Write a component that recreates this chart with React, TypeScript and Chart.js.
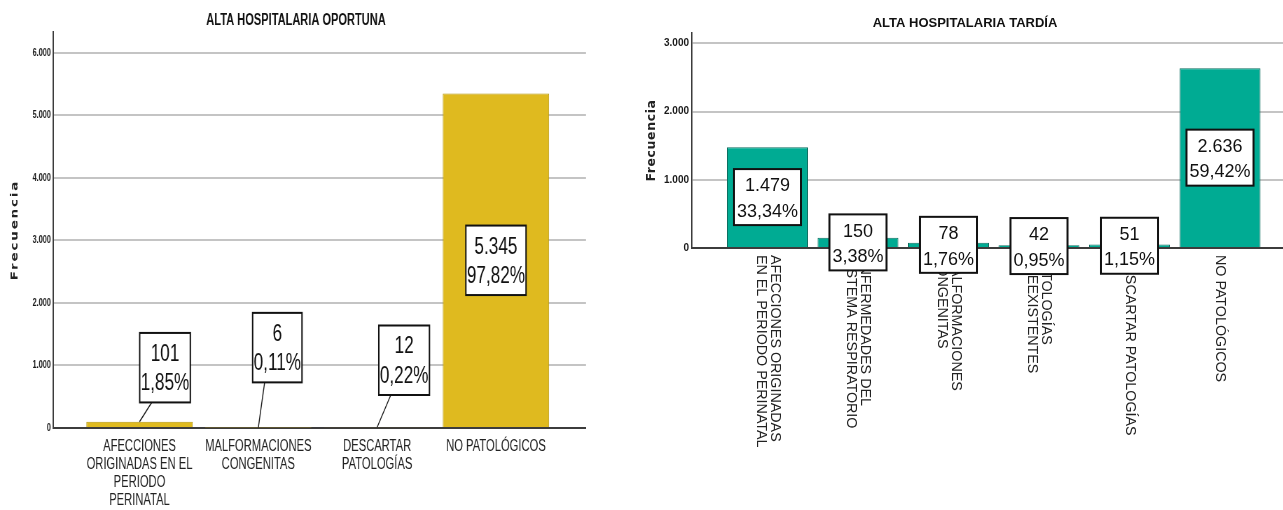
import React, { useEffect, useRef } from 'react';
import { Chart, registerables } from 'chart.js';

Chart.register(...registerables);

// ---------- data ----------
const OPORTUNA_CATEGORIES: string[][] = [
  ['AFECCIONES', 'ORIGINADAS EN EL', 'PERIODO', 'PERINATAL'],
  ['MALFORMACIONES', 'CONGENITAS'],
  ['DESCARTAR', 'PATOLOGÍAS'],
  ['NO PATOLÓGICOS'],
];
const OPORTUNA_COUNTS = [101, 6, 12, 5345];
const OPORTUNA_PCTS = [1.85, 0.11, 0.22, 97.82];
const OPORTUNA_Y_TICKS = [0, 1000, 2000, 3000, 4000, 5000, 6000];

const TARDIA_CATEGORIES: string[][] = [
  ['AFECCIONES ORIGINADAS', 'EN EL PERIODO PERINATAL'],
  ['ENFERMEDADES DEL', 'SISTEMA RESPIRATORIO'],
  ['MALFORMACIONES', 'CONGENITAS'],
  ['PATOLOGÍAS', 'PREEXISTENTES'],
  ['DESCARTAR PATOLOGÍAS'],
  ['NO PATOLÓGICOS'],
];
const TARDIA_COUNTS = [1479, 150, 78, 42, 51, 2636];
const TARDIA_PCTS = [33.34, 3.38, 1.76, 0.95, 1.15, 59.42];
const TARDIA_Y_TICKS = [0, 1000, 2000, 3000];

const Y_TITLE = 'Frecuencia';

// ---------- helpers ----------
const SANS = '"Liberation Sans", Arial, sans-serif';

function fmtInt(v: number): string {
  return String(v).replace(/\B(?=(\d{3})+(?!\d))/g, '.');
}
function fmtPct(v: number): string {
  return v.toFixed(2).replace('.', ',') + '%';
}

type LabelOffset = { dx: number; dy: number } | null;

interface PanelSpec {
  title: string;
  categories: string[][];
  counts: number[];
  pcts: number[];
  yTicks: number[];
  yMax: number;
  xMin: number;
  xMax: number;
  left: number;
  displayWidth: number;
  internalWidth: number;
  height: number;
  area: { left: number; right: number; top: number; bottom: number };
  fill: string;
  stroke: string;
  axisWidth: number;
  titleX: number;
  titleY: number;
  titleSize: number;
  yTitleX: number;
  yTitleSize: number;
  yTitleSpacing: number;
  tickSize: number;
  rotatedCats: boolean;
  catSize: number;
  catLineHeight: number;
  catPadding: number;
  boxFont: number;
  boxPitch: number;
  boxPadX: number;
  boxPadTop: number;
  boxPadBottom: number;
  labelOffsets: LabelOffset[];
}

const OPORTUNA_SPEC: PanelSpec = {
  title: 'ALTA HOSPITALARIA OPORTUNA',
  categories: OPORTUNA_CATEGORIES,
  counts: OPORTUNA_COUNTS,
  pcts: OPORTUNA_PCTS,
  yTicks: OPORTUNA_Y_TICKS,
  yMax: 6330,
  xMin: -0.728,
  xMax: 3.758,
  left: 0,
  displayWidth: 640,
  internalWidth: 914,
  height: 510,
  area: { left: 53, right: 586, top: 32, bottom: 428 },
  fill: '#dfba1f',
  stroke: '#b59608',
  axisWidth: 2,
  titleX: 296,
  titleY: 21,
  titleSize: 15.8,
  yTitleX: 15,
  yTitleSize: 13.5,
  yTitleSpacing: 1.8,
  tickSize: 10.5,
  rotatedCats: false,
  catSize: 16,
  catLineHeight: 18.3,
  catPadding: 9,
  boxFont: 24.5,
  boxPitch: 29.5,
  boxPadX: 1,
  boxPadTop: 6.5,
  boxPadBottom: 4,
  labelOffsets: [{ dx: 25.5, dy: -54 }, { dx: 19, dy: -80 }, { dx: 27, dy: -67 }, null],
};

const TARDIA_SPEC: PanelSpec = {
  title: 'ALTA HOSPITALARIA TARDÍA',
  categories: TARDIA_CATEGORIES,
  counts: TARDIA_COUNTS,
  pcts: TARDIA_PCTS,
  yTicks: TARDIA_Y_TICKS,
  yMax: 3154,
  xMin: -0.834,
  xMax: 5.696,
  left: 640,
  displayWidth: 643,
  internalWidth: 643,
  height: 510,
  area: { left: 52, right: 643, top: 33, bottom: 248 },
  fill: '#00ab93',
  stroke: '#0c6f60',
  axisWidth: 1.5,
  titleX: 325,
  titleY: 23,
  titleSize: 13,
  yTitleX: 12,
  yTitleSize: 12.5,
  yTitleSpacing: 0.6,
  tickSize: 10,
  rotatedCats: true,
  catSize: 14.3,
  catLineHeight: 14,
  catPadding: 7,
  boxFont: 18,
  boxPitch: 25.5,
  boxPadX: 3,
  boxPadTop: 4.5,
  boxPadBottom: 0.5,
  labelOffsets: [null, null, null, null, null, null],
};

function BarPanel({ spec }: { spec: PanelSpec }) {
  const ref = useRef<HTMLCanvasElement>(null);

  useEffect(() => {
    const canvas = ref.current;
    if (!canvas) return;
    const kx = spec.internalWidth / spec.displayWidth;
    const areaLeft = spec.area.left * kx;
    const areaRight = spec.area.right * kx;

    const overlay = {
      id: 'panelOverlay',
      afterDraw(chart: any) {
        const ctx: CanvasRenderingContext2D = chart.ctx;
        const xs = chart.scales.x;
        const ys = chart.scales.y;
        const ca = chart.chartArea;
        ctx.save();

        // title
        ctx.fillStyle = '#111';
        ctx.textAlign = 'center';
        ctx.textBaseline = 'middle';
        ctx.font = `bold ${spec.titleSize}px ${SANS}`;
        ctx.fillText(spec.title, spec.titleX * kx, spec.titleY);

        // value axis title
        ctx.save();
        ctx.translate(spec.yTitleX * kx, (ca.top + ca.bottom) / 2);
        ctx.rotate(-Math.PI / 2);
        ctx.font = `bold ${spec.yTitleSize}px "DejaVu Sans", sans-serif`;
        (ctx as any).letterSpacing = `${spec.yTitleSpacing}px`;
        ctx.fillStyle = '#222';
        ctx.fillText(Y_TITLE, 0, 0);
        ctx.restore();

        const zeroY = ys.getPixelForValue(0);

        // vertical category labels, reading top to bottom
        if (spec.rotatedCats) {
          ctx.font = `${spec.catSize}px ${SANS}`;
          ctx.fillStyle = '#222';
          ctx.textAlign = 'left';
          ctx.textBaseline = 'middle';
          spec.categories.forEach((lines, i) => {
            const x = xs.getPixelForValue(i);
            ctx.save();
            ctx.translate(x, zeroY + spec.catPadding);
            ctx.rotate(Math.PI / 2);
            const n = lines.length;
            lines.forEach((line, j) => {
              const ly = -((n - 1) / 2 - j) * spec.catLineHeight;
              ctx.fillText(line, 0, ly);
            });
            ctx.restore();
          });
        }

        // value / percentage boxes
        const bars = chart.getDatasetMeta(0).data;
        ctx.font = `${spec.boxFont}px ${SANS}`;
        spec.counts.forEach((count, i) => {
          const bar: any = bars[i];
          if (!bar) return;
          const lines = [fmtInt(count), fmtPct(spec.pcts[i])];
          const tw = Math.max(...lines.map((l) => ctx.measureText(l).width));
          const bw = tw + 2 * spec.boxPadX * kx;
          const bh = lines.length * spec.boxPitch + spec.boxPadTop + spec.boxPadBottom;
          const off = spec.labelOffsets[i];
          const cx = bar.x + (off ? off.dx * kx : 0);
          const cy = off ? bar.y + off.dy : (bar.y + bar.base) / 2;
          const bx = cx - bw / 2;
          const by = cy - bh / 2;

          if (off) {
            ctx.beginPath();
            ctx.strokeStyle = '#1a1a1a';
            ctx.lineWidth = 1.4;
            ctx.moveTo(bx + 12 * kx, by + bh);
            ctx.lineTo(bar.x, bar.y);
            ctx.stroke();
          }

          ctx.fillStyle = '#ffffff';
          ctx.fillRect(bx, by, bw, bh);
          ctx.strokeStyle = '#111';
          ctx.lineWidth = 2;
          ctx.strokeRect(bx, by, bw, bh);

          ctx.fillStyle = '#111';
          ctx.textAlign = 'center';
          ctx.textBaseline = 'middle';
          lines.forEach((l, j) => {
            ctx.fillText(l, cx, by + spec.boxPadTop + spec.boxPitch * (j + 0.5));
          });
        });

        ctx.restore();
      },
    };

    const chart = new Chart(canvas, {
      type: 'bar',
      data: {
        datasets: [
          {
            data: spec.counts.map((v, i) => ({ x: i, y: v })),
            backgroundColor: spec.fill,
            borderColor: spec.stroke,
            borderWidth: 1,
            barPercentage: 0.895,
            categoryPercentage: 1,
          } as any,
        ],
      },
      options: {
        animation: false,
        responsive: false,
        devicePixelRatio: 1,
        layout: {
          padding: { left: 0, right: spec.internalWidth - areaRight, top: spec.area.top, bottom: 0 },
        },
        plugins: {
          legend: { display: false },
          tooltip: { enabled: false },
          title: { display: false },
        },
        scales: {
          x: {
            type: 'linear',
            min: spec.xMin,
            max: spec.xMax,
            offset: false,
            afterBuildTicks: (s: any) => {
              s.ticks = spec.categories.map((_, i) => ({ value: i }));
            },
            afterFit: (s: any) => {
              s.height = spec.height - spec.area.bottom;
            },
            grid: { display: false, drawTicks: false },
            border: { display: true, color: '#3c3c3c', width: 2 },
            ticks: {
              display: !spec.rotatedCats,
              autoSkip: false,
              maxRotation: 0,
              minRotation: 0,
              padding: spec.catPadding,
              color: '#222',
              font: { family: SANS, size: spec.catSize, lineHeight: spec.catLineHeight / spec.catSize },
              callback: (v: any) => spec.categories[Math.round(Number(v))] ?? '',
            },
          },
          y: {
            min: 0,
            max: spec.yMax,
            afterBuildTicks: (s: any) => {
              s.ticks = spec.yTicks.map((v) => ({ value: v }));
            },
            afterFit: (s: any) => {
              s.width = areaLeft;
            },
            grid: {
              color: (c: any) => (c.tick && c.tick.value === 0 ? 'rgba(0,0,0,0)' : '#c4c4c4'),
              lineWidth: 2,
              drawTicks: false,
            },
            border: { display: true, color: '#3c3c3c', width: spec.axisWidth },
            ticks: {
              padding: 3,
              color: '#1a1a1a',
              font: { family: SANS, size: spec.tickSize, weight: 'bold' },
              callback: (v: any) => fmtInt(Number(v)),
            },
          },
        },
      } as any,
      plugins: [overlay],
    });

    return () => chart.destroy();
  }, [spec]);

  return (
    <canvas
      ref={ref}
      width={spec.internalWidth}
      height={spec.height}
      style={{
        position: 'absolute',
        left: spec.left,
        top: 0,
        width: spec.displayWidth,
        height: spec.height,
      }}
    />
  );
}

export default function App() {
  return (
    <div
      style={{
        position: 'absolute',
        left: 0,
        top: 0,
        width: 1283,
        height: 510,
        background: '#ffffff',
        overflow: 'hidden',
      }}
    >
      <BarPanel spec={OPORTUNA_SPEC} />
      <BarPanel spec={TARDIA_SPEC} />
    </div>
  );
}
